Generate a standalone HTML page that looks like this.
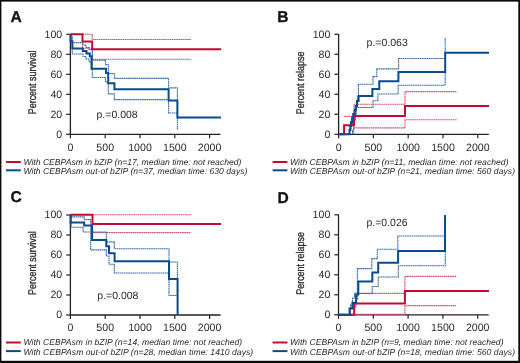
<!DOCTYPE html>
<html><head><meta charset="utf-8"><style>
html,body{margin:0;padding:0;background:#fff;}
body{width:520px;height:363px;overflow:hidden;position:relative;}
svg{position:absolute;left:0;top:0;display:block;will-change:transform;}
text{font-family:"Liberation Sans",sans-serif;text-rendering:geometricPrecision;}
.tk{font-size:10.6px;fill:#2b2b2b;}
.yl{font-size:11.2px;fill:#2b2b2b;stroke:#2b2b2b;stroke-width:0.3px;}
.pv{font-size:10.5px;fill:#2b2b2b;}
.pl{font-size:15.6px;font-weight:bold;fill:#111;stroke:#111;stroke-width:0.3px;}
.lg{font-size:8.6px;font-style:italic;fill:#2b2b2b;}
</style></head><body>
<svg width="520" height="363" viewBox="0 0 520 363">
<rect x="0" y="0" width="520" height="1.6" fill="#0a0a0a"/><rect x="0" y="0" width="1.4" height="363" fill="#0a0a0a"/><rect x="518.3" y="0" width="1.7" height="363" fill="#0a0a0a"/><rect x="0" y="360.8" width="520" height="2.2" fill="#0a0a0a"/>
<path d="M70.4,34.000000000000014 V134.3 H220.6" fill="none" stroke="#222" stroke-width="1.3"/>
<line x1="66.2" y1="134.30" x2="70.4" y2="134.30" stroke="#222" stroke-width="1.2"/>
<text x="62.2" y="137.60" text-anchor="end" class="tk">0</text>
<line x1="66.2" y1="114.30" x2="70.4" y2="114.30" stroke="#222" stroke-width="1.2"/>
<text x="62.2" y="117.60" text-anchor="end" class="tk">20</text>
<line x1="66.2" y1="94.30" x2="70.4" y2="94.30" stroke="#222" stroke-width="1.2"/>
<text x="62.2" y="97.60" text-anchor="end" class="tk">40</text>
<line x1="66.2" y1="74.30" x2="70.4" y2="74.30" stroke="#222" stroke-width="1.2"/>
<text x="62.2" y="77.60" text-anchor="end" class="tk">60</text>
<line x1="66.2" y1="54.30" x2="70.4" y2="54.30" stroke="#222" stroke-width="1.2"/>
<text x="62.2" y="57.60" text-anchor="end" class="tk">80</text>
<line x1="66.2" y1="34.30" x2="70.4" y2="34.30" stroke="#222" stroke-width="1.2"/>
<text x="62.2" y="37.60" text-anchor="end" class="tk">100</text>
<line x1="70.40" y1="134.3" x2="70.40" y2="138.3" stroke="#222" stroke-width="1.2"/>
<text x="70.40" y="150.60" text-anchor="middle" class="tk">0</text>
<line x1="105.20" y1="134.3" x2="105.20" y2="138.3" stroke="#222" stroke-width="1.2"/>
<text x="105.20" y="150.60" text-anchor="middle" class="tk">500</text>
<line x1="140.00" y1="134.3" x2="140.00" y2="138.3" stroke="#222" stroke-width="1.2"/>
<text x="140.00" y="150.60" text-anchor="middle" class="tk">1000</text>
<line x1="174.80" y1="134.3" x2="174.80" y2="138.3" stroke="#222" stroke-width="1.2"/>
<text x="174.80" y="150.60" text-anchor="middle" class="tk">1500</text>
<line x1="209.60" y1="134.3" x2="209.60" y2="138.3" stroke="#222" stroke-width="1.2"/>
<text x="209.60" y="150.60" text-anchor="middle" class="tk">2000</text>
<text transform="translate(36.0,114.30000000000001) rotate(-90) scale(0.80,1)" class="yl">Percent survival</text>
<path d="M82.5,34.3 H92.2 V39.5 H190.9" fill="none" stroke="#d55273" stroke-width="1.1" stroke-dasharray="1.7 0.45"/>
<path d="M82.5,41.4 V48.3 H92.2 V59.3 H190.9" fill="none" stroke="#d55273" stroke-width="1.1" stroke-dasharray="1.7 0.45"/>
<path d="M71,34.3 V42.6 H83 V45 H86 V47.5 H89 V49.5 H92.5 V60.1 H105.5 V64.6 H108.3 V73.5 H114.3 V78.4 H168.6 V87.9 H177.4 V130" fill="none" stroke="#3a6da6" stroke-width="1.1" stroke-dasharray="1.7 0.45"/>
<path d="M72.3,36 V54 H83 V56.5 H86 V59 H89 V62 H92.3 V77.5 H105.5 V82 H108.3 V93.9 H114.3 V99.6 H168.6 V113 H177.4" fill="none" stroke="#3a6da6" stroke-width="1.1" stroke-dasharray="1.7 0.45"/>
<path d="M70.4,34.3 H82.5 V41.4 H92.2 V49.2 H221.1" fill="none" stroke="#c30a32" stroke-width="2"/>
<path d="M70.6,34.3 V41.3 H72.4 V48.6 H82.8 V51.1 H86.5 V53.6 H89.8 V56.3 H91.5 V68.8 H106 V73 H108.2 V83.3 H114.4 V89.2 H168.6 V100.5 H177.4 V117.4 H221" fill="none" stroke="#0b4a8b" stroke-width="2"/>
<text x="96.5" y="118.1" class="pv">p.=0.008</text>
<text x="10.6" y="21.9" class="pl">A</text>
<line x1="6.0" y1="162.0" x2="20.8" y2="162.0" stroke="#c30a32" stroke-width="2"/>
<line x1="6.0" y1="170.3" x2="20.8" y2="170.3" stroke="#0b4a8b" stroke-width="2"/>
<text x="23.4" y="164.50" class="lg" textLength="218.0" lengthAdjust="spacing">With CEBPAsm in bZIP (n=17, median time: not reached)</text>
<text x="23.4" y="174.20" class="lg" textLength="224.0" lengthAdjust="spacing">With CEBPAsm out-of bZIP (n=37, median time: 630 days)</text>
<path d="M338.6,34.000000000000014 V134.3 H488.8" fill="none" stroke="#222" stroke-width="1.3"/>
<line x1="334.40000000000003" y1="134.30" x2="338.6" y2="134.30" stroke="#222" stroke-width="1.2"/>
<text x="330.40000000000003" y="137.60" text-anchor="end" class="tk">0</text>
<line x1="334.40000000000003" y1="114.30" x2="338.6" y2="114.30" stroke="#222" stroke-width="1.2"/>
<text x="330.40000000000003" y="117.60" text-anchor="end" class="tk">20</text>
<line x1="334.40000000000003" y1="94.30" x2="338.6" y2="94.30" stroke="#222" stroke-width="1.2"/>
<text x="330.40000000000003" y="97.60" text-anchor="end" class="tk">40</text>
<line x1="334.40000000000003" y1="74.30" x2="338.6" y2="74.30" stroke="#222" stroke-width="1.2"/>
<text x="330.40000000000003" y="77.60" text-anchor="end" class="tk">60</text>
<line x1="334.40000000000003" y1="54.30" x2="338.6" y2="54.30" stroke="#222" stroke-width="1.2"/>
<text x="330.40000000000003" y="57.60" text-anchor="end" class="tk">80</text>
<line x1="334.40000000000003" y1="34.30" x2="338.6" y2="34.30" stroke="#222" stroke-width="1.2"/>
<text x="330.40000000000003" y="37.60" text-anchor="end" class="tk">100</text>
<line x1="338.60" y1="134.3" x2="338.60" y2="138.3" stroke="#222" stroke-width="1.2"/>
<text x="338.60" y="150.60" text-anchor="middle" class="tk">0</text>
<line x1="373.40" y1="134.3" x2="373.40" y2="138.3" stroke="#222" stroke-width="1.2"/>
<text x="373.40" y="150.60" text-anchor="middle" class="tk">500</text>
<line x1="408.20" y1="134.3" x2="408.20" y2="138.3" stroke="#222" stroke-width="1.2"/>
<text x="408.20" y="150.60" text-anchor="middle" class="tk">1000</text>
<line x1="443.00" y1="134.3" x2="443.00" y2="138.3" stroke="#222" stroke-width="1.2"/>
<text x="443.00" y="150.60" text-anchor="middle" class="tk">1500</text>
<line x1="477.80" y1="134.3" x2="477.80" y2="138.3" stroke="#222" stroke-width="1.2"/>
<text x="477.80" y="150.60" text-anchor="middle" class="tk">2000</text>
<text transform="translate(304.2,114.30000000000001) rotate(-90) scale(0.80,1)" class="yl">Percent relapse</text>
<path d="M344.1,116.4 H354 V104.3 H405 V91.6 H456.7" fill="none" stroke="#d55273" stroke-width="1.1" stroke-dasharray="1.7 0.45"/>
<path d="M353.6,134.3 V127.9 H405 V119.8 H456.7" fill="none" stroke="#d55273" stroke-width="1.1" stroke-dasharray="1.7 0.45"/>
<path d="M349.5,134.3 V129 H351 V124 H352.5 V119 H354 V114 H355.3 V109 H356.5 V104 H357.6 V97 H358.4 V84.3 H373 V76.6 H376.8 V68.9 H398.6 V58.5 H445.2 V38" fill="none" stroke="#3a6da6" stroke-width="1.1" stroke-dasharray="1.7 0.45"/>
<path d="M352.5,134.3 V130 H353.6 V125 H354.6 V120 H355.5 V114 H356.3 V107.5 H373 V100.7 H377.8 V94 H398.2 V85.2 H445.2 V72" fill="none" stroke="#3a6da6" stroke-width="1.1" stroke-dasharray="1.7 0.45"/>
<path d="M338.6,134.3 H344.1 V125.3 H353.9 V116.1 H405 V106.1 H489" fill="none" stroke="#c30a32" stroke-width="2"/>
<path d="M338.6,134.3 H349.5 V130 H350.3 V126 H351.1 V122 H352.1 V118 H353.2 V114 H354.6 V110 H355.8 V106 H357 V101 H358.6 V96.1 H372.4 V89.1 H379.3 V81.2 H398.4 V71.9 H445.2 V52.8 H489" fill="none" stroke="#0b4a8b" stroke-width="2"/>
<text x="366.6" y="45.6" class="pv">p.=0.063</text>
<text x="277.2" y="22.1" class="pl">B</text>
<line x1="272.6" y1="162.0" x2="287.40000000000003" y2="162.0" stroke="#c30a32" stroke-width="2"/>
<line x1="272.6" y1="170.3" x2="287.40000000000003" y2="170.3" stroke="#0b4a8b" stroke-width="2"/>
<text x="290.0" y="164.50" class="lg" textLength="218.5" lengthAdjust="spacing">With CEBPAsm in bZIP (n=11, median time: not reached)</text>
<text x="290.0" y="174.20" class="lg" textLength="225.0" lengthAdjust="spacing">With CEBPAsm out-of bZIP (n=21, median time: 560 days)</text>
<path d="M70.4,214.7 V315.0 H220.6" fill="none" stroke="#222" stroke-width="1.3"/>
<line x1="66.2" y1="315.00" x2="70.4" y2="315.00" stroke="#222" stroke-width="1.2"/>
<text x="62.2" y="318.30" text-anchor="end" class="tk">0</text>
<line x1="66.2" y1="295.00" x2="70.4" y2="295.00" stroke="#222" stroke-width="1.2"/>
<text x="62.2" y="298.30" text-anchor="end" class="tk">20</text>
<line x1="66.2" y1="275.00" x2="70.4" y2="275.00" stroke="#222" stroke-width="1.2"/>
<text x="62.2" y="278.30" text-anchor="end" class="tk">40</text>
<line x1="66.2" y1="255.00" x2="70.4" y2="255.00" stroke="#222" stroke-width="1.2"/>
<text x="62.2" y="258.30" text-anchor="end" class="tk">60</text>
<line x1="66.2" y1="235.00" x2="70.4" y2="235.00" stroke="#222" stroke-width="1.2"/>
<text x="62.2" y="238.30" text-anchor="end" class="tk">80</text>
<line x1="66.2" y1="215.00" x2="70.4" y2="215.00" stroke="#222" stroke-width="1.2"/>
<text x="62.2" y="218.30" text-anchor="end" class="tk">100</text>
<line x1="70.40" y1="315.0" x2="70.40" y2="319.0" stroke="#222" stroke-width="1.2"/>
<text x="70.40" y="331.30" text-anchor="middle" class="tk">0</text>
<line x1="105.20" y1="315.0" x2="105.20" y2="319.0" stroke="#222" stroke-width="1.2"/>
<text x="105.20" y="331.30" text-anchor="middle" class="tk">500</text>
<line x1="140.00" y1="315.0" x2="140.00" y2="319.0" stroke="#222" stroke-width="1.2"/>
<text x="140.00" y="331.30" text-anchor="middle" class="tk">1000</text>
<line x1="174.80" y1="315.0" x2="174.80" y2="319.0" stroke="#222" stroke-width="1.2"/>
<text x="174.80" y="331.30" text-anchor="middle" class="tk">1500</text>
<line x1="209.60" y1="315.0" x2="209.60" y2="319.0" stroke="#222" stroke-width="1.2"/>
<text x="209.60" y="331.30" text-anchor="middle" class="tk">2000</text>
<text transform="translate(36.0,295.0) rotate(-90) scale(0.80,1)" class="yl">Percent survival</text>
<path d="M92.5,214.7 H190.9" fill="none" stroke="#d55273" stroke-width="1.1" stroke-dasharray="1.7 0.45"/>
<path d="M92.5,214.7 V232.6 H190.9" fill="none" stroke="#d55273" stroke-width="1.1" stroke-dasharray="1.7 0.45"/>
<path d="M71.2,214.7 V216.9 H84.2 V219.6 H90.7 V232 H106.3 V241.9 H114.3 V248.7 H169 V262 H177.4 V295.5" fill="none" stroke="#3a6da6" stroke-width="1.1" stroke-dasharray="1.7 0.45"/>
<path d="M71.2,216 V227.2 H83.1 V232 H90.7 V249.9 H106.3 V256 H109 V264.2 H114.3 V273 H169 V295.5 H177.2" fill="none" stroke="#3a6da6" stroke-width="1.1" stroke-dasharray="1.7 0.45"/>
<path d="M70.4,214.7 H92.5 V224 H221.1" fill="none" stroke="#c30a32" stroke-width="2"/>
<path d="M70.6,214.7 V222.4 H84.2 V225.4 H92.1 V240.1 H106.3 V246.3 H109 V253.2 H114.6 V261.3 H169 V279 H177.6 V315" fill="none" stroke="#0b4a8b" stroke-width="2"/>
<text x="97.3" y="298.5" class="pv">p.=0.008</text>
<text x="10.6" y="202.3" class="pl">C</text>
<line x1="6.0" y1="342.5" x2="20.8" y2="342.5" stroke="#c30a32" stroke-width="2"/>
<line x1="6.0" y1="351.1" x2="20.8" y2="351.1" stroke="#0b4a8b" stroke-width="2"/>
<text x="23.4" y="345.00" class="lg" textLength="218.8" lengthAdjust="spacing">With CEBPAsm in bZIP (n=14, median time: not reached)</text>
<text x="23.4" y="355.00" class="lg" textLength="229.8" lengthAdjust="spacing">With CEBPAsm out-of bZIP (n=28, median time: 1410 days)</text>
<path d="M338.5,214.5 V314.8 H488.7" fill="none" stroke="#222" stroke-width="1.3"/>
<line x1="334.3" y1="314.80" x2="338.5" y2="314.80" stroke="#222" stroke-width="1.2"/>
<text x="330.3" y="318.10" text-anchor="end" class="tk">0</text>
<line x1="334.3" y1="294.80" x2="338.5" y2="294.80" stroke="#222" stroke-width="1.2"/>
<text x="330.3" y="298.10" text-anchor="end" class="tk">20</text>
<line x1="334.3" y1="274.80" x2="338.5" y2="274.80" stroke="#222" stroke-width="1.2"/>
<text x="330.3" y="278.10" text-anchor="end" class="tk">40</text>
<line x1="334.3" y1="254.80" x2="338.5" y2="254.80" stroke="#222" stroke-width="1.2"/>
<text x="330.3" y="258.10" text-anchor="end" class="tk">60</text>
<line x1="334.3" y1="234.80" x2="338.5" y2="234.80" stroke="#222" stroke-width="1.2"/>
<text x="330.3" y="238.10" text-anchor="end" class="tk">80</text>
<line x1="334.3" y1="214.80" x2="338.5" y2="214.80" stroke="#222" stroke-width="1.2"/>
<text x="330.3" y="218.10" text-anchor="end" class="tk">100</text>
<line x1="338.50" y1="314.8" x2="338.50" y2="318.8" stroke="#222" stroke-width="1.2"/>
<text x="338.50" y="331.10" text-anchor="middle" class="tk">0</text>
<line x1="373.30" y1="314.8" x2="373.30" y2="318.8" stroke="#222" stroke-width="1.2"/>
<text x="373.30" y="331.10" text-anchor="middle" class="tk">500</text>
<line x1="408.10" y1="314.8" x2="408.10" y2="318.8" stroke="#222" stroke-width="1.2"/>
<text x="408.10" y="331.10" text-anchor="middle" class="tk">1000</text>
<line x1="442.90" y1="314.8" x2="442.90" y2="318.8" stroke="#222" stroke-width="1.2"/>
<text x="442.90" y="331.10" text-anchor="middle" class="tk">1500</text>
<line x1="477.70" y1="314.8" x2="477.70" y2="318.8" stroke="#222" stroke-width="1.2"/>
<text x="477.70" y="331.10" text-anchor="middle" class="tk">2000</text>
<text transform="translate(304.2,294.8) rotate(-90) scale(0.80,1)" class="yl">Percent relapse</text>
<path d="M357.5,293.4 H404.9 V276.4 H456.4" fill="none" stroke="#d55273" stroke-width="1.1" stroke-dasharray="1.7 0.45"/>
<path d="M354.2,314.3 H404.9 V305.6 H456" fill="none" stroke="#d55273" stroke-width="1.1" stroke-dasharray="1.7 0.45"/>
<path d="M350.5,314.8 V305 H352.5 V298 H354.5 V293 H357.4 V268.6 H371.8 V258.6 H377.3 V249.3 H397.8 V236 H445" fill="none" stroke="#3a6da6" stroke-width="1.1" stroke-dasharray="1.7 0.45"/>
<path d="M354,314.8 V307 H356 V299 H357.7 V293.5 H372.2 V286.5 H378.2 V277 H398.3 V265.8 H445.3 V251" fill="none" stroke="#3a6da6" stroke-width="1.1" stroke-dasharray="1.7 0.45"/>
<path d="M338.5,314.8 H354.2 V303.6 H404.9 V291.1 H489" fill="none" stroke="#c30a32" stroke-width="2"/>
<path d="M338.5,314.8 H349.6 V308.6 H352.4 V302.8 H356.1 V294.5 H358.3 V281.4 H372.3 V272.4 H378.2 V262.8 H398.1 V251.1 H445 V215" fill="none" stroke="#0b4a8b" stroke-width="2"/>
<text x="366.4" y="225.7" class="pv">p.=0.026</text>
<text x="277.5" y="202.9" class="pl">D</text>
<line x1="272.6" y1="342.5" x2="287.40000000000003" y2="342.5" stroke="#c30a32" stroke-width="2"/>
<line x1="272.6" y1="351.1" x2="287.40000000000003" y2="351.1" stroke="#0b4a8b" stroke-width="2"/>
<text x="290.0" y="345.00" class="lg" textLength="213.5" lengthAdjust="spacing">With CEBPAsm in bZIP (n=9, median time: not reached)</text>
<text x="290.0" y="355.00" class="lg" textLength="225.0" lengthAdjust="spacing">With CEBPAsm out-of bZIP (n=18, median time: 560 days)</text>
</svg>
</body></html>
